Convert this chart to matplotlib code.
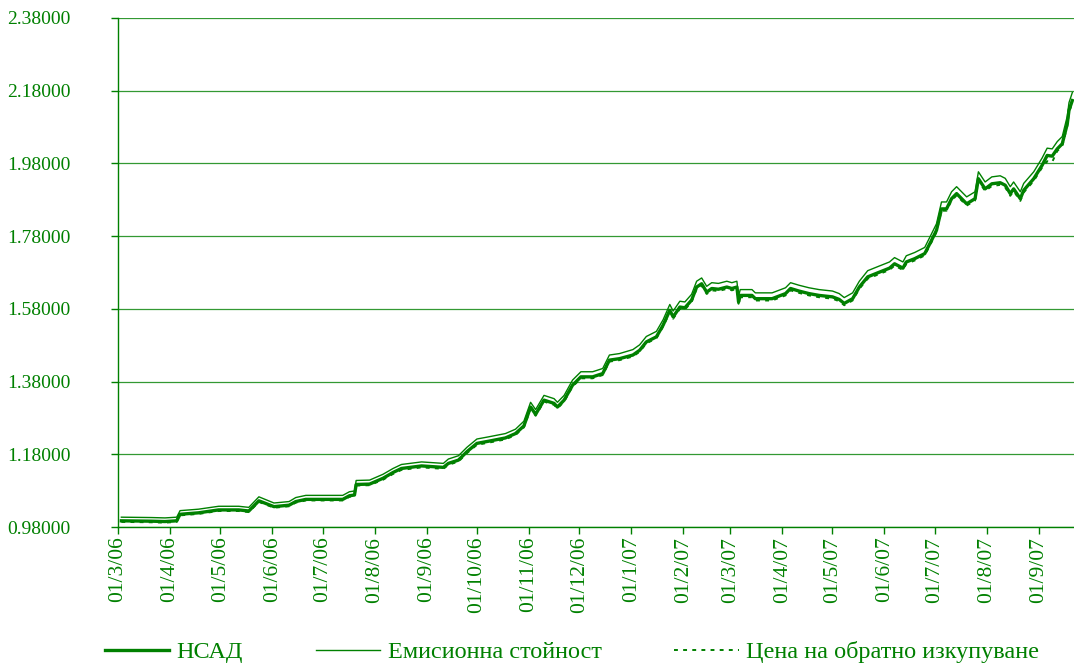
import matplotlib
matplotlib.use("Agg")
import matplotlib.pyplot as plt
import pandas as pd

dates = ["2006-03-03", "2006-03-21", "2006-03-29", "2006-04-05", "2006-04-07", "2006-04-18",
         "2006-04-30", "2006-05-12", "2006-05-18", "2006-05-24", "2006-06-02", "2006-06-11",
         "2006-06-15", "2006-06-21", "2006-07-13", "2006-07-17", "2006-07-20", "2006-07-21",
         "2006-07-29", "2006-08-06", "2006-08-12", "2006-08-17", "2006-08-29", "2006-09-11",
         "2006-09-14", "2006-09-20", "2006-09-25", "2006-10-01", "2006-10-08", "2006-10-18",
         "2006-10-24", "2006-10-29", "2006-11-02", "2006-11-05", "2006-11-10", "2006-11-16",
         "2006-11-18", "2006-11-22", "2006-11-27", "2006-12-02", "2006-12-09", "2006-12-15",
         "2006-12-19", "2006-12-25", "2007-01-02", "2007-01-06", "2007-01-10", "2007-01-16",
         "2007-01-20", "2007-01-24", "2007-01-26", "2007-01-30", "2007-02-02", "2007-02-06",
         "2007-02-09", "2007-02-12", "2007-02-15", "2007-02-18", "2007-02-22", "2007-02-27",
         "2007-03-02", "2007-03-05", "2007-03-06", "2007-03-07", "2007-03-14", "2007-03-16",
         "2007-03-26", "2007-04-03", "2007-04-06", "2007-04-11", "2007-04-17", "2007-04-23",
         "2007-05-01", "2007-05-05", "2007-05-08", "2007-05-13", "2007-05-17", "2007-05-22",
         "2007-05-29", "2007-06-04", "2007-06-07", "2007-06-12", "2007-06-14", "2007-06-19",
         "2007-06-25", "2007-06-29", "2007-07-02", "2007-07-05", "2007-07-08", "2007-07-11",
         "2007-07-14", "2007-07-17", "2007-07-20", "2007-07-25", "2007-07-27", "2007-07-31",
         "2007-08-04", "2007-08-09", "2007-08-12", "2007-08-15", "2007-08-17", "2007-08-21",
         "2007-08-23", "2007-08-29", "2007-09-03", "2007-09-06", "2007-09-09", "2007-09-12",
         "2007-09-15", "2007-09-18", "2007-09-19", "2007-09-21"]

nav = [0.997, 0.996, 0.995, 0.997, 1.015, 1.019, 1.027, 1.027, 1.024, 1.052, 1.036, 1.040,
       1.050, 1.056, 1.056, 1.066, 1.068, 1.097, 1.098, 1.114, 1.130, 1.141, 1.148, 1.144,
       1.155, 1.164, 1.187, 1.210, 1.216, 1.225, 1.237, 1.258, 1.310, 1.290, 1.329, 1.320,
       1.310, 1.329, 1.370, 1.393, 1.393, 1.402, 1.439, 1.443, 1.453, 1.466, 1.489, 1.503,
       1.535, 1.576, 1.558, 1.585, 1.583, 1.604, 1.640, 1.649, 1.626, 1.636, 1.634, 1.640,
       1.636, 1.640, 1.599, 1.617, 1.617, 1.608, 1.608, 1.622, 1.636, 1.629, 1.622, 1.617,
       1.613, 1.606, 1.595, 1.608, 1.640, 1.668, 1.681, 1.692, 1.704, 1.692, 1.709, 1.718,
       1.732, 1.768, 1.796, 1.855, 1.855, 1.883, 1.897, 1.883, 1.869, 1.883, 1.938, 1.910,
       1.924, 1.927, 1.920, 1.897, 1.910, 1.883, 1.906, 1.938, 1.975, 2.002, 2.000, 2.020,
       2.034, 2.089, 2.126, 2.153]

emission = [1.007, 1.006, 1.005, 1.007, 1.025, 1.029, 1.037, 1.037, 1.034, 1.063, 1.046, 1.050,
            1.061, 1.067, 1.067, 1.077, 1.079, 1.108, 1.109, 1.125, 1.141, 1.152, 1.159, 1.155,
            1.167, 1.176, 1.199, 1.222, 1.228, 1.237, 1.249, 1.271, 1.323, 1.303, 1.342, 1.333,
            1.323, 1.342, 1.384, 1.407, 1.407, 1.416, 1.453, 1.457, 1.468, 1.481, 1.504, 1.518,
            1.550, 1.592, 1.574, 1.601, 1.599, 1.620, 1.656, 1.665, 1.642, 1.652, 1.650, 1.656,
            1.652, 1.656, 1.615, 1.633, 1.633, 1.624, 1.624, 1.638, 1.652, 1.645, 1.638, 1.633,
            1.629, 1.622, 1.611, 1.624, 1.656, 1.685, 1.698, 1.709, 1.721, 1.709, 1.726, 1.735,
            1.749, 1.786, 1.814, 1.874, 1.874, 1.902, 1.916, 1.902, 1.888, 1.902, 1.957, 1.929,
            1.943, 1.946, 1.939, 1.916, 1.929, 1.902, 1.925, 1.957, 1.995, 2.022, 2.020, 2.040,
            2.054, 2.110, 2.147, 2.175]

redemption = [0.994, 0.993, 0.992, 0.994, 1.012, 1.016, 1.024, 1.024, 1.021, 1.049, 1.033, 1.037,
              1.047, 1.053, 1.053, 1.063, 1.065, 1.094, 1.095, 1.110, 1.126, 1.137, 1.144, 1.140,
              1.151, 1.160, 1.183, 1.206, 1.212, 1.221, 1.233, 1.254, 1.305, 1.286, 1.325, 1.316,
              1.306, 1.325, 1.366, 1.389, 1.389, 1.398, 1.435, 1.439, 1.449, 1.462, 1.485, 1.499,
              1.531, 1.571, 1.553, 1.580, 1.578, 1.599, 1.635, 1.644, 1.621, 1.631, 1.629, 1.635,
              1.631, 1.635, 1.594, 1.612, 1.612, 1.603, 1.603, 1.617, 1.631, 1.624, 1.617, 1.612,
              1.608, 1.601, 1.590, 1.603, 1.635, 1.663, 1.676, 1.687, 1.699, 1.687, 1.704, 1.713,
              1.727, 1.763, 1.791, 1.850, 1.850, 1.878, 1.892, 1.878, 1.864, 1.878, 1.932, 1.904,
              1.918, 1.921, 1.914, 1.891, 1.904, 1.877, 1.900, 1.932, 1.969, 1.986, 1.984, 2.014,
              2.028, 2.083, 2.120, 2.147]

series_labels = ["НСАД", "Емисионна стойност", "Цена на обратно изкупуване"]
x_ticks = ["2006-03-01", "2006-04-01", "2006-05-01", "2006-06-01", "2006-07-01", "2006-08-01",
           "2006-09-01", "2006-10-01", "2006-11-01", "2006-12-01", "2007-01-01", "2007-02-01",
           "2007-03-01", "2007-04-01", "2007-05-01", "2007-06-01", "2007-07-01", "2007-08-01",
           "2007-09-01"]
x_tick_labels = ["01/3/06", "01/4/06", "01/5/06", "01/6/06", "01/7/06", "01/8/06", "01/9/06",
                 "01/10/06", "01/11/06", "01/12/06", "01/1/07", "01/2/07", "01/3/07", "01/4/07",
                 "01/5/07", "01/6/07", "01/7/07", "01/8/07", "01/9/07"]
y_ticks = [0.98, 1.18, 1.38, 1.58, 1.78, 1.98, 2.18, 2.38]

GREEN = "#008000"
plt.rcParams['font.family'] = ['Liberation Serif', 'DejaVu Serif']

d = pd.to_datetime(dates)
fig = plt.figure(figsize=(10.74, 6.64), dpi=100)
ax = fig.add_axes([118 / 1074, 1 - 527 / 664, 1 - 118 / 1074, (527 - 18) / 664])

ax.plot(d, nav, color=GREEN, lw=2.4, label=series_labels[0], zorder=3)
ax.plot(d, emission, color=GREEN, lw=1.0, label=series_labels[1], zorder=4)
ax.plot(d, redemption, color=GREEN, lw=1.4, ls=(0, (2, 2.7)), label=series_labels[2], zorder=2)

ax.set_xlim(pd.Timestamp("2006-03-01"), pd.Timestamp("2007-09-22"))
ax.set_ylim(0.98, 2.38)
ax.set_yticks(y_ticks)
ax.set_yticklabels([f"{v:.5f}" for v in y_ticks])
ax.set_xticks(pd.to_datetime(x_ticks))
ax.set_xticklabels(x_tick_labels, rotation=90)

ax.grid(axis='y', color=GREEN, lw=0.9, alpha=0.8)
ax.set_axisbelow(True)
for s in ['top', 'right']:
    ax.spines[s].set_visible(False)
for s in ['left', 'bottom']:
    ax.spines[s].set_color(GREEN)
    ax.spines[s].set_linewidth(1.0)

ax.tick_params(axis='y', colors=GREEN, labelsize=14, length=5, width=1, pad=29)
ax.tick_params(axis='x', colors=GREEN, labelsize=15.5, length=5, width=1, pad=2)
for lab in ax.get_xticklabels() + ax.get_yticklabels():
    lab.set_color(GREEN)

leg = fig.legend(loc='center', bbox_to_anchor=(572 / 1074, 1 - 652 / 664), ncol=3,
                 frameon=False, fontsize=17.5, handlelength=2.65, handletextpad=0.3,
                 columnspacing=3.0)
for t in leg.get_texts():
    t.set_color(GREEN)

fig.savefig("out.png", dpi=100)
